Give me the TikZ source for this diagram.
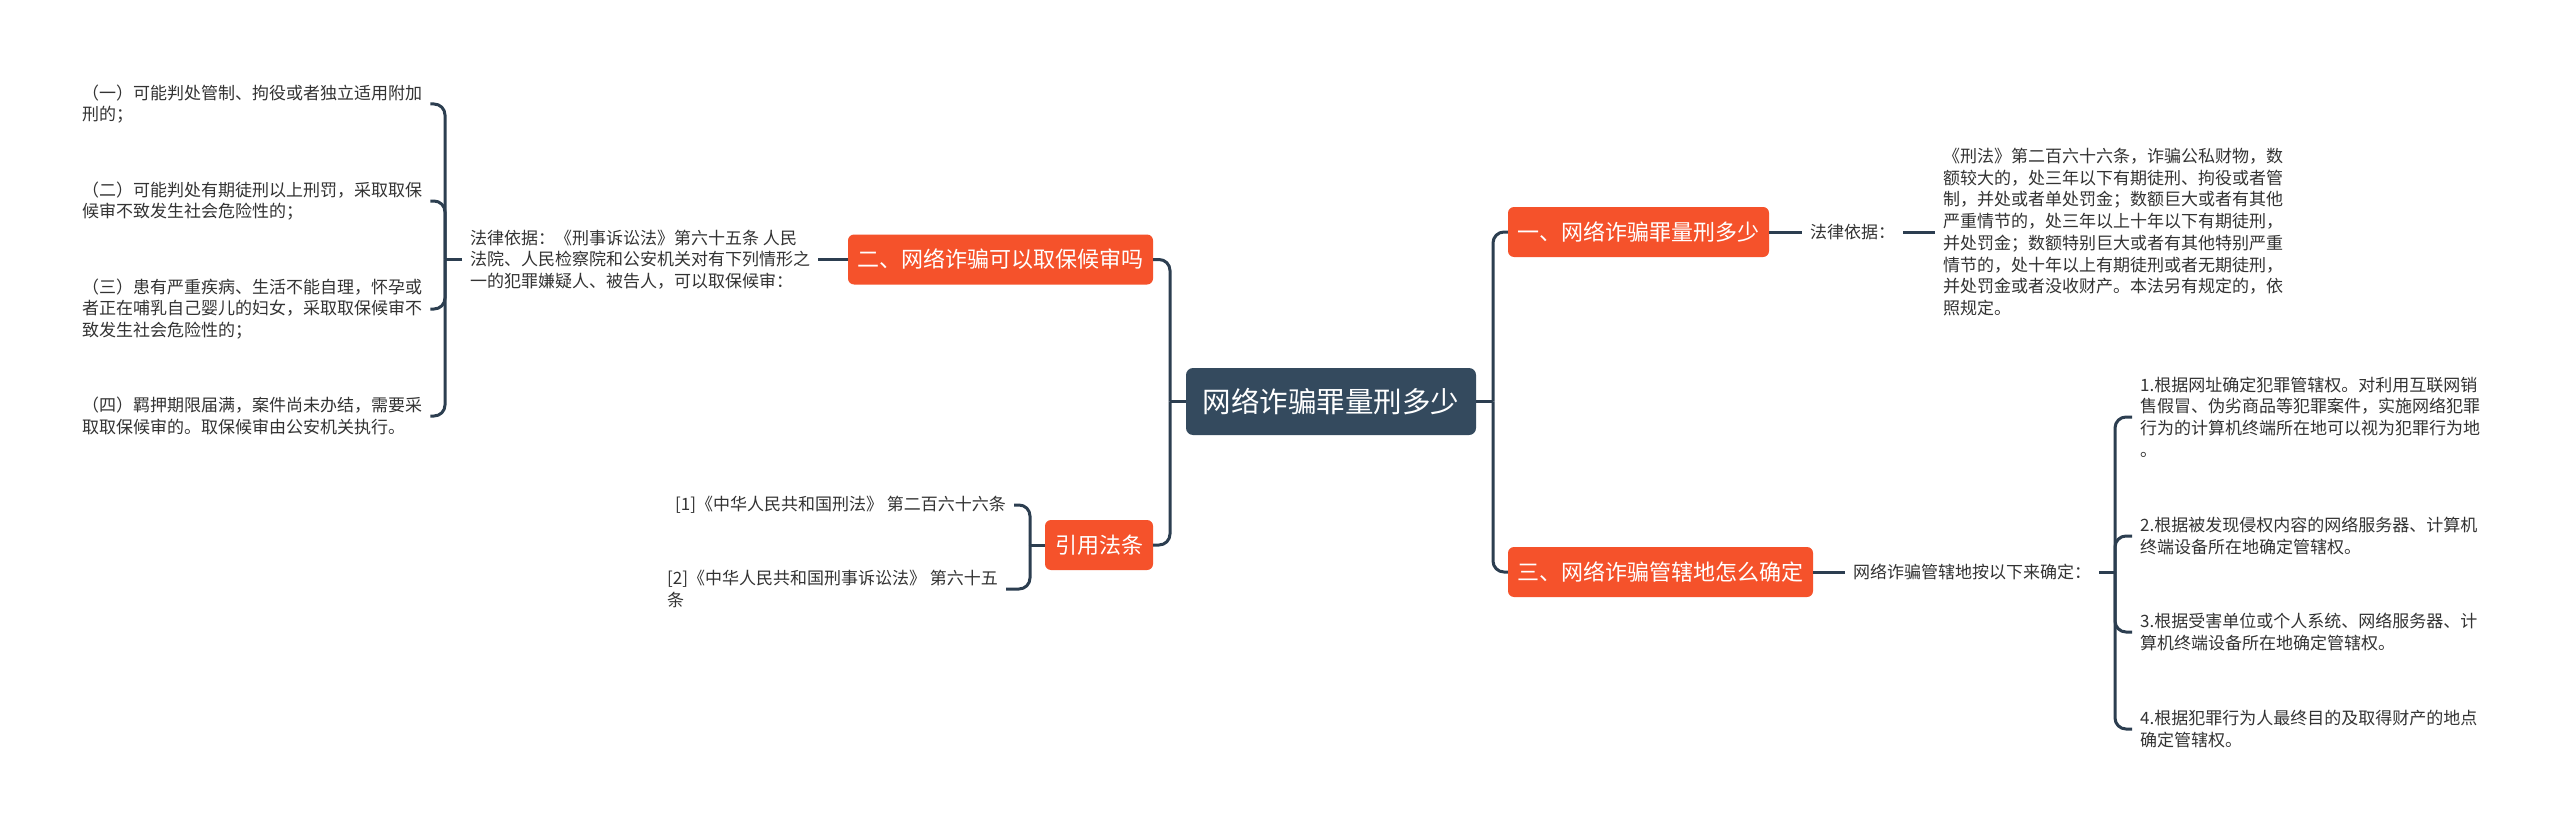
\documentclass[tikz,border=0pt]{standalone}
\usepackage{fontspec}
\setmainfont{Noto Sans CJK SC}
\definecolor{orn}{HTML}{F5522B}
\definecolor{dark}{HTML}{344A5E}
\definecolor{lnk}{HTML}{2C3E50}
\definecolor{txt}{HTML}{333333}
\begin{document}
\begin{tikzpicture}[x=1pt,y=-1pt,
  topic/.style={fill=orn,rounded corners=6pt,text=white,font=\fontsize{22}{26}\selectfont,inner sep=0pt,minimum height=50pt},
  root/.style={fill=dark,rounded corners=7pt,text=white,font=\fontsize{28.5}{32}\selectfont,inner sep=0pt,minimum width=290pt,minimum height=67pt},
  body/.style={text=txt,font=\fontsize{17}{21.7}\selectfont,align=left,inner xsep=8pt,inner ysep=0pt},
  link/.style={draw=lnk,line width=3pt},
  curvedlink/.style={draw=lnk,line width=3pt,rounded corners=11pt},
]
\fill[white] (0,0) rectangle (2560,832);
\useasboundingbox (0,0) rectangle (2560,832);

% main nodes
\node[root] (c) at (1331,401.5) {网络诈骗罪量刑多少};
\node[topic,minimum width=261pt] (n1) at (1638.5,232) {一、网络诈骗罪量刑多少};
\node[topic,minimum width=305pt] (n2) at (1000.5,259.5) {二、网络诈骗可以取保候审吗};
\node[topic,minimum width=305pt] (n3) at (1660.5,572) {三、网络诈骗管辖地怎么确定};
\node[topic,minimum width=108pt] (n4) at (1099,545) {引用法条};

% right branch 1
\node[body,anchor=west] (l1) at (1802,232) {法律依据：};
\node[body,anchor=west] (l1t) at (1935,232) {《刑法》第二百六十六条，诈骗公私财物，数\\额较大的，处三年以下有期徒刑、拘役或者管\\制，并处或者单处罚金；数额巨大或者有其他\\严重情节的，处三年以上十年以下有期徒刑，\\并处罚金；数额特别巨大或者有其他特别严重\\情节的，处十年以上有期徒刑或者无期徒刑，\\并处罚金或者没收财产。本法另有规定的，依\\照规定。};

% right branch 3
\node[body,anchor=west] (l3) at (1845,572) {网络诈骗管辖地按以下来确定：};
\node[body,anchor=west] (r1) at (2132,417) {1.根据网址确定犯罪管辖权。对利用互联网销\\售假冒、伪劣商品等犯罪案件，实施网络犯罪\\行为的计算机终端所在地可以视为犯罪行为地\\。};
\node[body,anchor=west] (r2) at (2132,536) {2.根据被发现侵权内容的网络服务器、计算机\\终端设备所在地确定管辖权。};
\node[body,anchor=west] (r3) at (2132,632) {3.根据受害单位或个人系统、网络服务器、计\\算机终端设备所在地确定管辖权。};
\node[body,anchor=west] (r4) at (2132,729) {4.根据犯罪行为人最终目的及取得财产的地点\\确定管辖权。};

% left branch 2
\node[body,anchor=west] (l2) at (462,259.5) {法律依据：《刑事诉讼法》第六十五条 人民\\法院、人民检察院和公安机关对有下列情形之\\一的犯罪嫌疑人、被告人，可以取保候审：};
\node[body,anchor=west] (i1) at (74,104) {（一）可能判处管制、拘役或者独立适用附加\\刑的；};
\node[body,anchor=west] (i2) at (74,201) {（二）可能判处有期徒刑以上刑罚，采取取保\\候审不致发生社会危险性的；};
\node[body,anchor=west] (i3) at (74,309) {（三）患有严重疾病、生活不能自理，怀孕或\\者正在哺乳自己婴儿的妇女，采取取保候审不\\致发生社会危险性的；};
\node[body,anchor=west] (i4) at (74,416) {（四）羁押期限届满，案件尚未办结，需要采\\取取保候审的。取保候审由公安机关执行。};

% references
\node[body,anchor=west] (f1) at (667,505) {[1]《中华人民共和国刑法》 第二百六十六条};
\node[body,anchor=west] (f2) at (659,589) {[2]《中华人民共和国刑事诉讼法》 第六十五\\条};

% trunk connectors
\coordinate (tR) at (1493,401.5);
\coordinate (tL) at (1170,401.5);
\draw[link] (c.east) -- (tR);
\draw[link] (c.west) -- (tL);
\draw[curvedlink] (tR) |- (n1.west);
\draw[curvedlink] (tR) |- (n3.west);
\draw[curvedlink] (tL) |- (n2.east);
\draw[curvedlink] (tL) |- (n4.east);

% branch 1
\draw[link] (n1.east) -- (l1.west);
\draw[link] (l1.east) -- (l1t.west);

% branch 3
\coordinate (bR) at (2115,572);
\draw[link] (n3.east) -- (l3.west);
\draw[link] (l3.east) -- (bR);
\foreach \r in {r1,r2,r3,r4} { \draw[curvedlink] (bR) |- (\r.west); }

% branch 2
\coordinate (bL) at (445,259.5);
\draw[link] (n2.west) -- (l2.east);
\draw[link] (l2.west) -- (bL);
\foreach \i in {i1,i2,i3,i4} { \draw[curvedlink] (bL) |- (\i.east); }

% references
\coordinate (bC) at (1030,545);
\draw[link] (n4.west) -- (bC);
\draw[curvedlink] (bC) |- (f1.east);
\draw[curvedlink] (bC) |- (f2.east);
\end{tikzpicture}
\end{document}
